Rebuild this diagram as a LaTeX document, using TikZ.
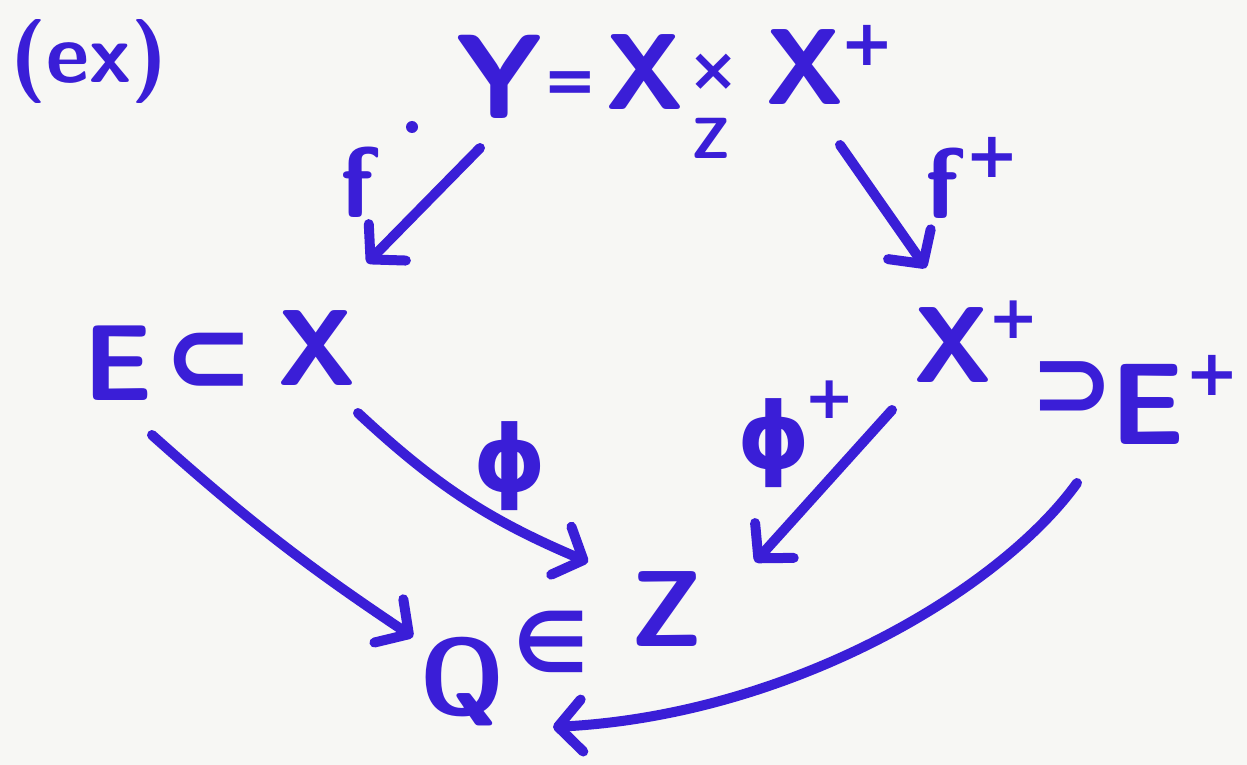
\documentclass[tikz,border=0pt]{standalone}
\usepackage{fontspec}
\newfontfamily\symf{DejaVu Sans}
\usetikzlibrary{arrows.meta}
\definecolor{ink}{RGB}{58,30,215}
\definecolor{paper}{RGB}{247,247,244}
\newcommand{\fsz}[1]{\fontsize{#1}{#1}\selectfont}
\begin{document}
\begin{tikzpicture}[x=0.5pt,y=-0.5pt,
  lbl/.style={inner sep=0pt, text=ink},
  big/.style={lbl, font={\sffamily\bfseries\fsz{#1}}},
  big/.default=54,
  sym/.style={lbl, font={\symf\bfseries\fsz{#1}}},
  arr/.style={draw=ink, line width=5pt, line cap=round, line join=round,
    -{Straight Barb[length=12pt,width=26pt,round]}},
]
\fill[paper] (0,0) rectangle (1247,765);
\useasboundingbox (0,0) rectangle (1247,765);

% top row
\node[big=42] (ex) at (89,62) {(ex)};
\node[big=60] (Y) at (499,77) {Y};
\node[sym=32] (eq) at (570,87) {=};
\node[big] (X1) at (645,72) {X};
\node[sym=30] (tm) at (714,72) {×};
\node[big=29] (zs) at (711,138) {Z};
\node[big] (X2) at (805,67) {X};
\node[sym=32] (p1) at (867,45) {+};

% labels of upper arrows
\node[big=50] (fl) at (357,182) {f};
\fill[ink] (412,127) circle (6);
\node[big=50] (fr) at (942,183) {f};
\node[sym=32] (p2) at (992,157) {+};

% middle row
\node[big] (E) at (118,363) {E};
\node[sym=54] (sub) at (209,363) {⊂};
\node[big] (Xl) at (317,348) {X};
\node[big] (Xr) at (953,345) {X};
\node[sym=30] (p3) at (1014,320) {+};
\node[sym=50] (sup) at (1072,390) {⊃};
\node[big=58] (Er) at (1148,404) {E};
\node[sym=32] (p4) at (1212,375) {+};

% phi labels
\node[sym=46] (phl) at (510,466) {ϕ};
\node[sym=46] (phr) at (774,443) {ϕ};
\node[sym=30] (p5) at (830,400) {+};

% bottom
\node[big] (Q) at (462,682) {Q};
\node[sym=42] (in) at (551,642) {∈};
\node[big] (Z) at (667,609) {Z};

% arrows
\draw[arr] ([shift={(-19,71)}]Y.center) -- ([shift={(50,-85)}]Xl.center);
\draw[arr] ([shift={(35,78)}]X2.center) -- ([shift={(-27,-77)}]Xr.center);
\draw[arr] ([shift={(34,72)}]E.center) to[bend right=4] ([shift={(-49,-45)}]Q.center);
\draw[arr] ([shift={(41,65)}]Xl.center) to[bend right=10] ([shift={(-79,-47)}]Z.center);
\draw[arr] ([shift={(-61,65)}]Xr.center) -- ([shift={(88,-47)}]Z.center);
\draw[arr] ([shift={(-71,79)}]Er.center) .. controls (1000,590) and (790,715) .. ([shift={(91,45)}]Q.center);
\end{tikzpicture}
\end{document}
